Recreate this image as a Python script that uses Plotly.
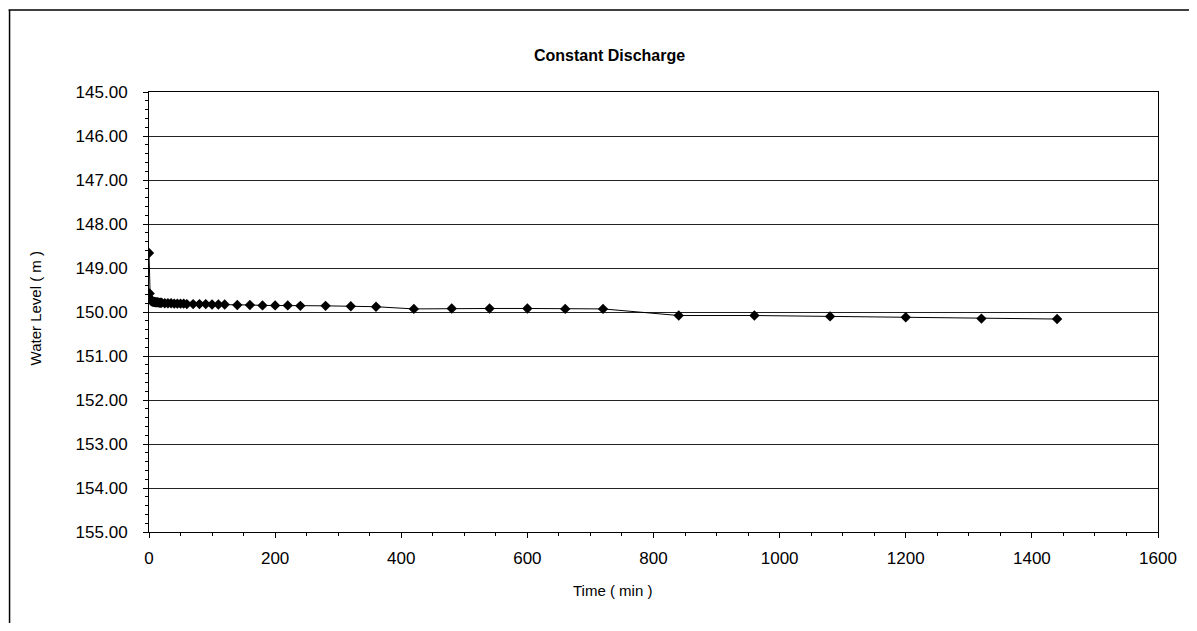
import plotly.graph_objects as go

time_min = [0, 1, 2, 3, 4, 5, 6, 7, 8, 9, 10, 12, 14, 16, 18, 20, 25, 30, 35, 40,
            45, 50, 55, 60, 70, 80, 90, 100, 110, 120, 140, 160, 180, 200, 220, 240,
            280, 320, 360, 420, 480, 540, 600, 660, 720, 840, 960, 1080, 1200, 1320, 1440]
water_level = [148.66, 149.58, 149.70, 149.74, 149.75, 149.76, 149.76, 149.77, 149.77, 149.77,
               149.78, 149.78, 149.78, 149.79, 149.79, 149.79, 149.80, 149.80, 149.80, 149.81,
               149.81, 149.81, 149.81, 149.82, 149.82, 149.82, 149.82, 149.83, 149.83, 149.83,
               149.84, 149.84, 149.85, 149.85, 149.85, 149.86, 149.86, 149.87, 149.88,
               149.93, 149.92, 149.92, 149.92, 149.93, 149.93,
               150.08, 150.08, 150.10, 150.12, 150.15, 150.16]

y_ticks = [145, 146, 147, 148, 149, 150, 151, 152, 153, 154, 155]
y_tick_text = [f"{v:.2f}" for v in y_ticks]
x_ticks = [0, 200, 400, 600, 800, 1000, 1200, 1400, 1600]

FONT = "Liberation Sans, Arial, sans-serif"

fig = go.Figure()
fig.add_trace(go.Scatter(
    x=time_min, y=water_level, mode="lines+markers",
    line=dict(color="black", width=1),
    marker=dict(symbol="diamond", size=8, color="black"),
    showlegend=False,
))

# page body has an 8px margin: figure origin sits at (8, 8) in the screenshot
OFF = 8
W, H = 1197 - 2 * OFF, 631 - 2 * OFF
PL, PR, PT, PB = 149, 1162, 92, 532          # plot area in screenshot pixels
L, T = PL - OFF, PT - OFF
R, B = W - (PR - OFF), H - (PB - OFF)
pw, ph = PR - PL, PB - PT

def px(xp):
    return (xp - PL) / pw

def py(yp):
    return (PB - yp) / ph

fig.update_layout(
    width=W, height=H,
    margin=dict(l=L, r=R, t=T, b=B),
    paper_bgcolor="white", plot_bgcolor="white",
    font=dict(family=FONT, color="black"),
    xaxis=dict(
        range=[0, 1600], tickvals=x_ticks, ticktext=[str(v) for v in x_ticks],
        showgrid=False, zeroline=False,
        showline=True, linecolor="black", linewidth=1, mirror=True,
        ticks="outside", ticklen=5, tickcolor="black",
        minor=dict(dtick=50, ticks="outside", ticklen=3, tickcolor="black"),
        tickfont=dict(size=17, family=FONT), ticklabelstandoff=6,
    ),
    yaxis=dict(
        range=[155, 145], tickvals=y_ticks, ticktext=y_tick_text,
        showgrid=True, gridcolor="#222222", gridwidth=1, zeroline=False,
        showline=True, linecolor="black", linewidth=1, mirror=True,
        ticks="outside", ticklen=5, tickcolor="black",
        minor=dict(dtick=0.2, ticks="outside", ticklen=3, tickcolor="black", showgrid=False),
        tickfont=dict(size=17, family=FONT), ticklabelstandoff=12,
    ),
    shapes=[
        dict(type="line", xref="paper", yref="paper", x0=px(8), x1=px(1197), y0=py(10), y1=py(10),
             line=dict(color="black", width=1.5)),
        dict(type="line", xref="paper", yref="paper", x0=px(9), x1=px(9), y0=py(10), y1=py(640),
             line=dict(color="black", width=1.5)),
    ],
    annotations=[
        dict(text="<b>Constant Discharge</b>", xref="paper", yref="paper", x=px(611), y=py(55),
             showarrow=False, font=dict(size=16, family=FONT), xanchor="center", yanchor="middle"),
        dict(text="Time ( min )", xref="paper", yref="paper", x=px(614), y=py(590),
             showarrow=False, font=dict(size=15, family=FONT), xanchor="center", yanchor="middle"),
        dict(text="Water Level ( m )", xref="paper", yref="paper", x=px(35), y=py(308),
             showarrow=False, font=dict(size=15, family=FONT), textangle=-90,
             xanchor="center", yanchor="middle"),
    ],
)

fig.write_html("out.html")
